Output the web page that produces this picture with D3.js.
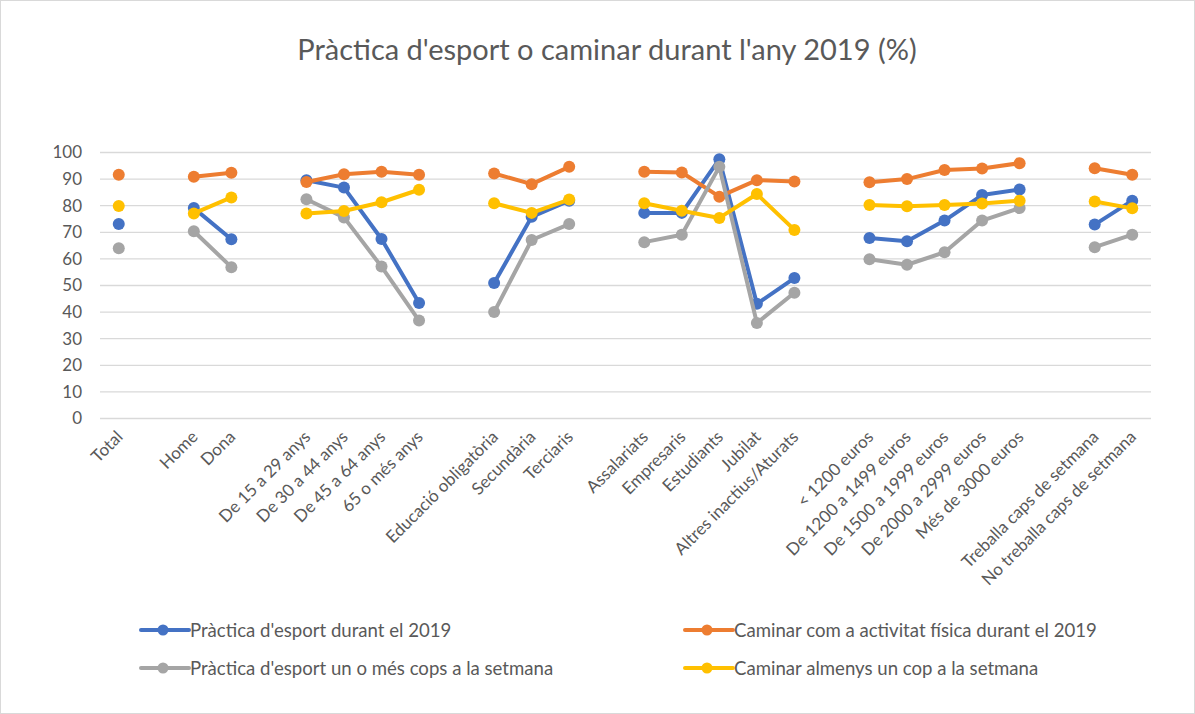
<!DOCTYPE html>
<html>
<head>
<meta charset="utf-8">
<script src="https://cdn.jsdelivr.net/npm/d3@7"></script>
<style>
  body { margin: 0; background: #fff; }
  text { font-family: Lato, "Noto Sans", sans-serif; fill: #595959; }
</style>
</head>
<body>
<svg id="chart" width="1195" height="714"></svg>
<script>
// categories ("" = empty gap slot between groups)
var categories = ['Total', '', 'Home', 'Dona', '',
    'De 15 a 29 anys', 'De 30 a 44 anys', 'De 45 a 64 anys', '65 o més anys', '',
    'Educació obligatòria', 'Secundària', 'Terciaris', '',
    'Assalariats', 'Empresaris', 'Estudiants', 'Jubilat', 'Altres inactius/Aturats', '',
    '< 1200 euros', 'De 1200 a 1499 euros', 'De 1500 a 1999 euros', 'De 2000 a 2999 euros', 'Més de 3000 euros', '',
    'Treballa caps de setmana', 'No treballa caps de setmana'];

var esport = [73.1, null, 79.1, 67.4, null,
    89.6, 86.8, 67.5, 43.4, null,
    50.9, 75.8, 81.9, null,
    77.3, 77.3, 97.5, 43.1, 52.8, null,
    67.9, 66.6, 74.4, 84.0, 86.1, null,
    72.9, 81.9];

var caminar = [91.6, null, 90.9, 92.4, null,
    88.9, 91.8, 92.8, 91.6, null,
    92.1, 88.1, 94.6, null,
    92.8, 92.5, 83.4, 89.6, 89.1, null,
    88.8, 90.0, 93.4, 94.0, 96.0, null,
    94.1, 91.6];

var esportSetmana = [64.0, null, 70.4, 56.9, null,
    82.4, 75.6, 57.1, 36.8, null,
    40.0, 67.1, 73.1, null,
    66.3, 69.1, 94.6, 35.9, 47.3, null,
    59.9, 57.8, 62.5, 74.4, 79.1, null,
    64.4, 69.1];

var caminarSetmana = [79.9, null, 77.1, 83.1, null,
    77.1, 78.0, 81.3, 86.0, null,
    80.9, 77.3, 82.3, null,
    80.9, 78.1, 75.4, 84.4, 70.9, null,
    80.3, 79.8, 80.3, 80.8, 81.9, null,
    81.6, 79.0];

var yTicks = [0, 10, 20, 30, 40, 50, 60, 70, 80, 90, 100];

var series = [
    {name: "Pràctica d'esport durant el 2019", values: esport, color: '#4472C4'},
    {name: 'Caminar com a activitat física durant el 2019', values: caminar, color: '#ED7D31'},
    {name: "Pràctica d'esport un o més cops a la setmana", values: esportSetmana, color: '#A5A5A5'},
    {name: 'Caminar almenys un cop a la setmana', values: caminarSetmana, color: '#FFC000'}
];

var svg = d3.select('#chart');

// outer chart border
svg.append('rect')
    .attr('x', 0.5).attr('y', 0.5)
    .attr('width', 1194).attr('height', 713)
    .attr('fill', 'none')
    .attr('stroke', '#d9d9d9');

svg.append('text')
    .attr('x', 607).attr('y', 60)
    .attr('text-anchor', 'middle')
    .attr('font-size', 29)
    .text("Pràctica d'esport o caminar durant l'any 2019 (%)");

var x = d3.scaleBand()
    .domain(d3.range(categories.length))
    .range([100, 1151]);

var y = d3.scaleLinear()
    .domain([0, 100])
    .range([418.5, 152.5]);

// gridlines
svg.append('g')
    .selectAll('line')
    .data(yTicks)
    .join('line')
    .attr('x1', 100).attr('x2', 1151)
    .attr('y1', function (d) { return y(d); })
    .attr('y2', function (d) { return y(d); })
    .attr('stroke', '#d9d9d9')
    .attr('stroke-width', 1.3);

var yAxis = svg.append('g')
    .attr('transform', 'translate(82,0)')
    .call(d3.axisLeft(y).tickValues(yTicks).tickSize(0).tickPadding(0));
yAxis.select('.domain').remove();
yAxis.selectAll('text')
    .attr('font-size', 17)
    .attr('font-family', 'Lato, sans-serif')
    .attr('fill', '#595959');

// category labels, rotated
svg.append('g')
    .selectAll('text')
    .data(categories)
    .join('text')
    .attr('transform', function (d, i) {
        return 'translate(' + (x(i) + x.bandwidth() / 2 + 5) + ',438) rotate(-45)';
    })
    .attr('text-anchor', 'end')
    .attr('font-size', 17)
    .text(function (d) { return d; });

var line = d3.line()
    .defined(function (d) { return d != null; })
    .x(function (d, i) { return x(i) + x.bandwidth() / 2; })
    .y(function (d) { return y(d); });

series.forEach(function (s) {
    var g = svg.append('g');
    g.append('path')
        .datum(s.values)
        .attr('fill', 'none')
        .attr('stroke', s.color)
        .attr('stroke-width', 4)
        .attr('stroke-linejoin', 'round')
        .attr('d', line);
    g.selectAll('circle')
        .data(s.values.map(function (v, i) { return {v: v, i: i}; })
            .filter(function (d) { return d.v != null; }))
        .join('circle')
        .attr('cx', function (d) { return x(d.i) + x.bandwidth() / 2; })
        .attr('cy', function (d) { return y(d.v); })
        .attr('r', 6)
        .attr('fill', s.color);
});

// legend
var legendPos = [[141, 630], [685, 630], [141, 668], [685, 668]];
series.forEach(function (s, i) {
    var p = legendPos[i];
    var lg = svg.append('g').attr('transform', 'translate(' + p[0] + ',' + p[1] + ')');
    lg.append('line')
        .attr('x1', 0).attr('x2', 48)
        .attr('stroke', s.color).attr('stroke-width', 4)
        .attr('stroke-linecap', 'round');
    lg.append('circle').attr('cx', 22).attr('r', 5.5).attr('fill', s.color);
    lg.append('text')
        .attr('x', 49).attr('dy', '0.35em')
        .attr('font-size', 18.6)
        .text(s.name);
});
</script>
</body>
</html>
